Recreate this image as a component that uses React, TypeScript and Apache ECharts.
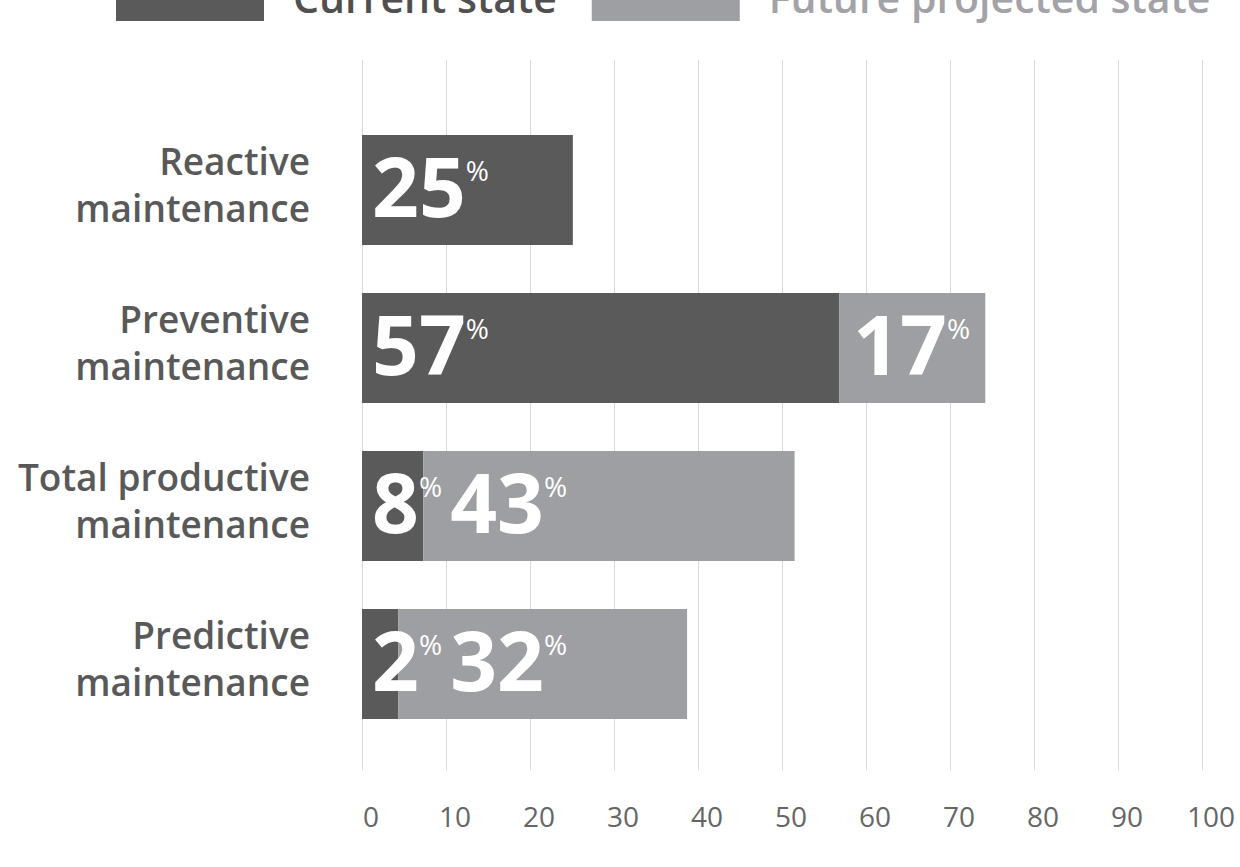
import React, { useEffect, useRef } from "react";
import * as echarts from "echarts";

const categories = [
  "Reactive\nmaintenance",
  "Preventive\nmaintenance",
  "Total productive\nmaintenance",
  "Predictive\nmaintenance",
];
const currentValues = [25.1, 56.8, 7.3, 4.3];
const futureValues: (number | null)[] = [null, 17.4, 44.2, 34.4];
const currentLabels = ["25", "57", "8", "2"];
const futureLabels = ["", "17", "43", "32"];
const seriesNames = ["Current state", "Future projected state"];
const axisMin = 0;
const axisMax = 100;
const axisInterval = 10;

const DARK = "#5a5a5a";
const LIGHT = "#9e9fa3";
const FONT = "'Open Sans', 'Noto Sans', sans-serif";

export default function App() {
  const ref = useRef<HTMLDivElement>(null);
  useEffect(() => {
    if (!ref.current) return;
    const chart = echarts.init(ref.current, undefined, { renderer: "svg" });
    const gridLeft = 362;
    const gridRight = 38;
    const pxPerUnit = (1240 - gridLeft - gridRight) / (axisMax - axisMin);
    const minFutureLabelUnit = 10.5;

    const rich = {
      n: { fontSize: 82, fontWeight: "bold", color: "#fff", fontFamily: FONT },
      p: { fontSize: 28, color: "#fff", fontFamily: FONT, verticalAlign: "top", padding: [12, 0, 0, 0] },
    };

    const currentData = currentValues.map((v) => ({
      value: v,
      label: { offset: [10, -5] },
    }));
    const futureData = futureValues.map((v, i) => {
      const shift = Math.max(14, (minFutureLabelUnit - currentValues[i]) * pxPerUnit);
      return { value: v, label: { offset: [shift, -5] } };
    });

    chart.setOption({
      animation: false,
      textStyle: { fontFamily: FONT },
      legend: {
        left: 116,
        top: -27,
        padding: 0,
        itemWidth: 148,
        itemHeight: 48,
        itemGap: 35,
        icon: "rect",
        selectedMode: false,
        textStyle: { fontSize: 41, fontWeight: 600, padding: [0, 0, 0, 24], fontFamily: FONT },
        data: [
          { name: seriesNames[0], textStyle: { color: "#505050" } },
          { name: seriesNames[1], textStyle: { color: "#a3a3a7" } },
        ],
      },
      grid: [
        { left: gridLeft, right: gridRight, top: 60, bottom: 97 },
        { left: gridLeft, right: gridRight, top: 111, height: 632 },
        { left: gridLeft, right: gridRight, top: 105, height: 632 },
      ],
      xAxis: [
        {
          gridIndex: 0,
          type: "value",
          min: axisMin,
          max: axisMax,
          interval: axisInterval,
          axisLine: { show: false },
          axisTick: { show: false },
          splitLine: { show: true, lineStyle: { color: "#d9d9d9", width: 1 } },
          axisLabel: {
            fontSize: 28,
            color: "#666666",
            margin: 32,
            padding: [0, 0, 0, 18],
            fontFamily: FONT,
          },
        },
        { gridIndex: 1, type: "value", min: axisMin, max: axisMax, show: false },
        { gridIndex: 2, type: "value", min: axisMin, max: axisMax, show: false },
      ],
      yAxis: [
        { gridIndex: 0, type: "value", show: false },
        {
          gridIndex: 1,
          type: "category",
          inverse: true,
          data: categories,
          axisLine: { show: false },
          axisTick: { show: false },
          splitLine: { show: false },
          axisLabel: { show: false },
        },
        {
          gridIndex: 2,
          type: "category",
          inverse: true,
          data: categories,
          axisLine: { show: false },
          axisTick: { show: false },
          splitLine: { show: false },
          axisLabel: {
            fontSize: 37,
            fontWeight: 600,
            color: "#595959",
            lineHeight: 47,
            margin: 52,
            align: "right",
            fontFamily: FONT,
          },
        },
      ],
      series: [
        {
          name: seriesNames[0],
          type: "bar",
          stack: "total",
          xAxisIndex: 1,
          yAxisIndex: 1,
          barWidth: 110,
          itemStyle: { color: DARK },
          label: {
            show: true,
            position: "insideLeft",
            distance: 0,
            formatter: (p: any) => `{n|${currentLabels[p.dataIndex]}}{p|%}`,
            rich,
          },
          data: currentData,
        },
        {
          name: seriesNames[1],
          type: "bar",
          stack: "total",
          xAxisIndex: 1,
          yAxisIndex: 1,
          barWidth: 110,
          itemStyle: { color: LIGHT },
          label: {
            show: true,
            position: "insideLeft",
            distance: 0,
            formatter: (p: any) =>
              futureLabels[p.dataIndex] ? `{n|${futureLabels[p.dataIndex]}}{p|%}` : "",
            rich,
          },
          data: futureData,
        },
      ],
    });
    return () => chart.dispose();
  }, []);
  return (
    <div style={{ position: "fixed", left: 0, top: 0, width: 1240, height: 867, background: "#fff" }}>
      <div ref={ref} style={{ width: 1240, height: 867 }} />
    </div>
  );
}
